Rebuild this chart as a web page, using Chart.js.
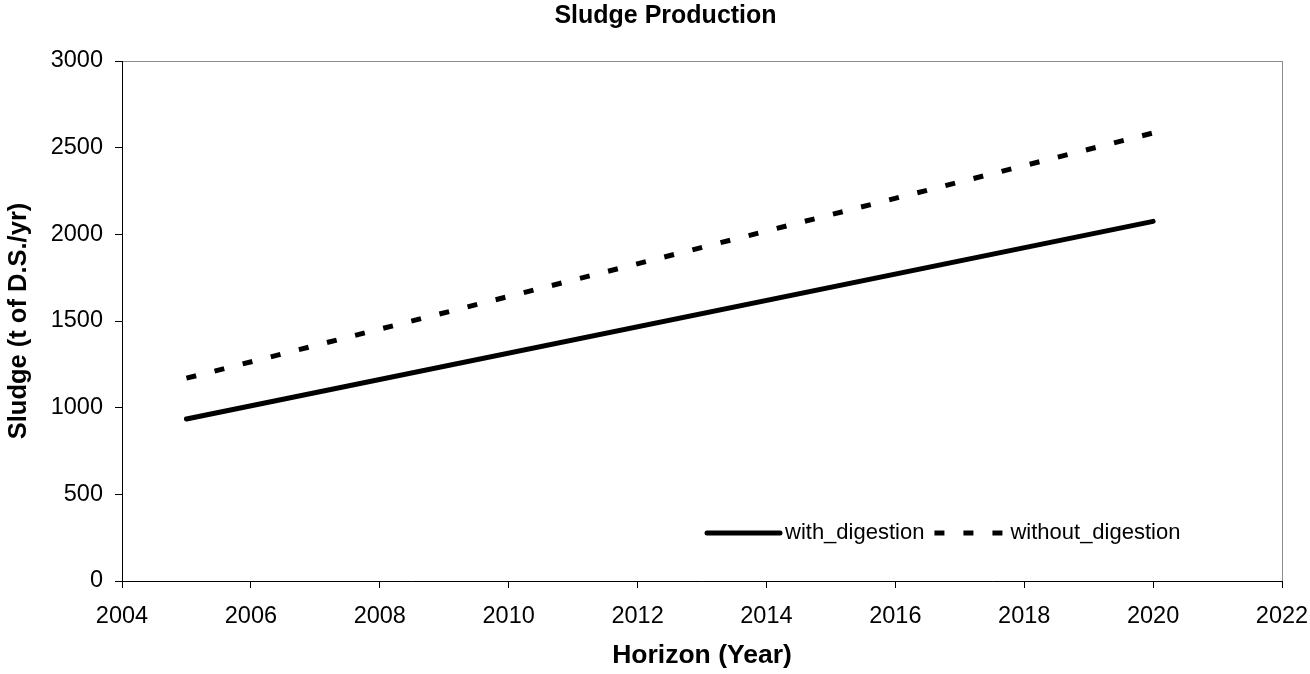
<!DOCTYPE html>
<html>
<head>
<meta charset="utf-8">
<title>Sludge Production</title>
<script src="https://cdn.jsdelivr.net/npm/chart.js@4.4.1/dist/chart.umd.min.js"></script>
<style>
  html, body { margin: 0; padding: 0; background: #ffffff; }
  #wrap { position: relative; width: 1310px; height: 674px; }
</style>
</head>
<body>
<div id="wrap"><canvas id="c" width="1310" height="674"></canvas></div>
<script>
// Annual sludge production (t of dry solids per year)
const years = [2005, 2020];
const withDigestion = [935, 2075];
const withoutDigestion = [1170, 2585];
const seriesNames = ['with_digestion', 'without_digestion'];

const chartTitle = 'Sludge Production';
const xAxisTitle = 'Horizon (Year)';
const yAxisTitle = 'Sludge (t of D.S./yr)';
const xMin = 2004, xMax = 2022, xStep = 2;
const yMin = 0, yMax = 3000, yStep = 500;

const FONT = '"Liberation Sans", Arial, Helvetica, sans-serif';
const toPoints = (xs, ys) => xs.map((x, i) => ({ x: x, y: ys[i] }));

// Grey frame around the plot area (left and bottom are redrawn by the axes)
const framePlugin = {
  id: 'frame',
  beforeDraw(chart) {
    const { ctx, chartArea: a } = chart;
    ctx.save();
    ctx.strokeStyle = '#8c8c8c';
    ctx.lineWidth = 1;
    ctx.strokeRect(Math.round(a.left) + 0.5, Math.round(a.top) + 0.5,
                   Math.round(a.right - a.left), Math.round(a.bottom - a.top));
    ctx.restore();
  }
};

// Chart heading
const headingPlugin = {
  id: 'heading',
  afterDraw(chart) {
    const ctx = chart.ctx;
    ctx.save();
    ctx.fillStyle = '#000';
    ctx.font = 'bold 25px ' + FONT;
    ctx.textAlign = 'center';
    ctx.textBaseline = 'middle';
    ctx.fillText(chartTitle, 665.5, 16);
    ctx.restore();
  }
};

// Legend drawn inside the plot area, bottom right, without a box
const innerLegendPlugin = {
  id: 'innerLegend',
  afterDraw(chart) {
    const { ctx, chartArea: a } = chart;
    const y = a.bottom - 48;
    let x = a.left + 585;
    const sampleLen = 73;
    ctx.save();
    ctx.font = '22px ' + FONT;
    ctx.textBaseline = 'middle';
    ctx.textAlign = 'left';
    ctx.fillStyle = '#000';
    chart.data.datasets.forEach((ds, i) => {
      ctx.strokeStyle = ds.borderColor;
      ctx.lineWidth = ds.borderWidth;
      ctx.lineCap = ds.borderCapStyle;
      ctx.setLineDash(ds.borderDash || []);
      ctx.beginPath();
      const x0 = i === 0 ? x : x + 2;
      ctx.moveTo(x0, y);
      ctx.lineTo(x0 + sampleLen, y);
      ctx.stroke();
      ctx.setLineDash([]);
      const tx = x + sampleLen + 5;
      ctx.fillText(ds.label, tx, y);
      x = tx + ctx.measureText(ds.label).width + 8;
    });
    ctx.restore();
  }
};

// Tick labels must not push the plot edges inward
function noEdgePadding(scale) {
  scale.paddingLeft = 0;
  scale.paddingRight = 0;
  scale.paddingTop = 0;
  scale.paddingBottom = 0;
}

new Chart(document.getElementById('c'), {
  type: 'line',
  data: {
    datasets: [
      {
        label: seriesNames[0],
        data: toPoints(years, withDigestion),
        borderColor: '#000',
        borderWidth: 5,
        borderCapStyle: 'round',
        borderJoinStyle: 'round',
        pointRadius: 0,
        fill: false,
        tension: 0
      },
      {
        label: seriesNames[1],
        data: toPoints(years, withoutDigestion),
        borderColor: '#000',
        borderWidth: 5,
        borderCapStyle: 'butt',
        borderDash: [10, 19],
        pointRadius: 0,
        fill: false,
        tension: 0
      }
    ]
  },
  options: {
    responsive: false,
    animation: false,
    events: [],
    layout: { padding: { top: 61, right: 28, bottom: 0, left: 0 } },
    plugins: {
      legend: { display: false },
      title: { display: false },
      tooltip: { enabled: false }
    },
    scales: {
      x: {
        type: 'linear',
        min: xMin,
        max: xMax,
        afterFit(scale) { scale.height = 93; noEdgePadding(scale); },
        ticks: {
          stepSize: xStep,
          color: '#000',
          font: { family: FONT, size: 23.5 },
          padding: 14,
          maxRotation: 0,
          autoSkip: false,
          callback: (v) => String(v)
        },
        grid: { display: true, drawOnChartArea: false, drawTicks: true, tickLength: 7, color: '#000', lineWidth: 1 },
        border: { display: true, color: '#000', width: 1 },
        title: {
          display: true,
          text: xAxisTitle,
          color: '#000',
          font: { family: FONT, size: 26.5, weight: 'bold' },
          padding: { top: 0, bottom: 2 }
        }
      },
      y: {
        type: 'linear',
        min: yMin,
        max: yMax,
        afterFit(scale) { scale.width = 122; noEdgePadding(scale); },
        ticks: {
          stepSize: yStep,
          color: '#000',
          font: { family: FONT, size: 23.5 },
          padding: 12,
          callback: (v) => String(v)
        },
        grid: { display: true, drawOnChartArea: false, drawTicks: true, tickLength: 7, color: '#000', lineWidth: 1 },
        border: { display: true, color: '#000', width: 1 },
        title: {
          display: true,
          text: yAxisTitle,
          color: '#000',
          font: { family: FONT, size: 25.5, weight: 'bold' },
          padding: { top: 4, bottom: 0 }
        }
      }
    }
  },
  plugins: [framePlugin, headingPlugin, innerLegendPlugin]
});
</script>
</body>
</html>
